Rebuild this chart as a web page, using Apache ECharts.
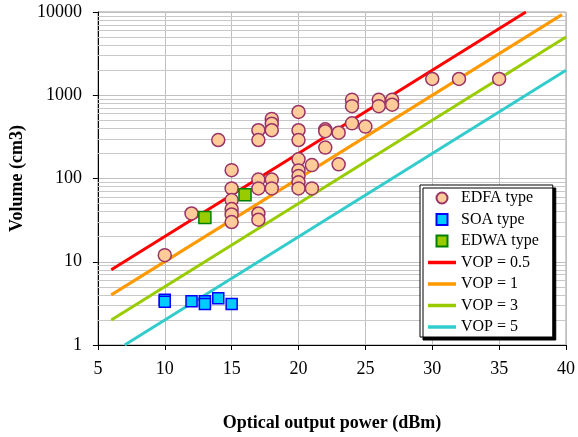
<!DOCTYPE html>
<html>
<head>
<meta charset="utf-8">
<script src="https://cdn.jsdelivr.net/npm/echarts@6/dist/echarts.min.js"></script>
<style>
  html, body { margin: 0; padding: 0; background: #fff; }
</style>
</head>
<body>
<div id="main" style="width: 578px; height: 437px"></div>
<script>
// power (dBm), volume (cm3)
var edfaData = [
  [10, 12], [12, 38], [14, 290],
  [15, 126], [15, 76], [15, 55], [15, 43], [15, 37], [15, 30],
  [17, 380], [17, 290], [17, 97], [17, 76], [17, 38], [17, 32],
  [18, 520], [18, 455], [18, 380], [18, 97], [18, 76],
  [20, 630], [20, 380], [20, 290], [20, 170], [20, 125], [20, 107], [20, 90], [20, 76],
  [21, 145], [21, 76],
  [22, 390], [22, 370], [22, 235],
  [23, 355], [23, 148],
  [24, 880], [24, 740], [24, 460],
  [25, 420],
  [26, 880], [26, 740],
  [27, 880], [27, 770],
  [30, 1570], [32, 1570], [35, 1570]
];
var soaData = [[10, 3.5], [10, 3.3], [12, 3.35], [13, 3.35], [13, 3.1], [14, 3.65], [15, 3.1]];
var edwaData = [[13, 34], [16, 64]];

// VOP lines, end points
var vop05 = [[6, 8], [37, 10000]];
var vop1 = [[6, 4], [39.7, 9300]];
var vop3 = [[6, 2], [40, 5000]];
var vop5 = [[7, 1], [40, 2000]];

var xTicks = [5, 10, 15, 20, 25, 30, 35, 40];
var yTicks = [1, 10, 100, 1000, 10000];
var minorGrid = [2, 3, 4, 5, 6, 7, 8, 9, 20, 30, 40, 50, 60, 70, 80, 90,
  200, 300, 400, 500, 600, 700, 800, 900, 2000, 3000, 4000, 5000, 6000, 7000, 8000, 9000];

var font = 'Liberation Serif';
var square = 'path://M0,0L10,0L10,10L0,10Z';
var bar = 'path://M0,0L28,0L28,3.5L0,3.5Z';
var chartDom = document.getElementById('main');
var myChart = echarts.init(chartDom);

var option = {
  animation: false,
  textStyle: { fontFamily: font, color: '#000' },
  grid: {
    left: 97, right: 12, top: 12, bottom: 91,
    show: true, borderColor: '#999', borderWidth: 1
  },
  legend: {
    orient: 'vertical',
    left: 420, top: 185,
    padding: [5, 14, 2, 8],
    itemWidth: 28, itemHeight: 11, itemGap: 5.5,
    symbolKeepAspect: true,
    backgroundColor: '#fff',
    borderColor: '#000', borderWidth: 1,
    shadowColor: '#000', shadowBlur: 0, shadowOffsetX: 3, shadowOffsetY: 3,
    textStyle: { fontFamily: font, fontSize: 16, lineHeight: 16, color: '#000' },
    data: [
      { name: 'EDFA type', icon: 'circle' },
      { name: 'SOA type', icon: square },
      { name: 'EDWA type', icon: square },
      { name: 'VOP = 0.5', icon: bar, itemStyle: { color: '#ff0000', borderWidth: 0 } },
      { name: 'VOP = 1', icon: bar, itemStyle: { color: '#ff9900', borderWidth: 0 } },
      { name: 'VOP = 3', icon: bar, itemStyle: { color: '#99cc00', borderWidth: 0 } },
      { name: 'VOP = 5', icon: bar, itemStyle: { color: '#33cccc', borderWidth: 0 } }
    ]
  },
  xAxis: {
    type: 'value', min: xTicks[0], max: xTicks[xTicks.length - 1], interval: 5,
    name: 'Optical output power (dBm)', nameLocation: 'middle', nameGap: 69,
    nameTextStyle: { fontFamily: font, fontSize: 18, fontWeight: 'bold', color: '#000' },
    axisLine: { lineStyle: { color: '#000', width: 1 } },
    axisTick: { show: true, length: 5, lineStyle: { color: '#000' } },
    axisLabel: { margin: 15, fontFamily: font, fontSize: 18, color: '#000' },
    splitLine: { show: true, lineStyle: { color: '#c0c0c0', width: 1 } }
  },
  yAxis: {
    type: 'log', logBase: 10, min: yTicks[0], max: yTicks[yTicks.length - 1],
    name: 'Volume (cm3)', nameLocation: 'middle', nameGap: 70,
    nameTextStyle: { fontFamily: font, fontSize: 18, fontWeight: 'bold', color: '#000' },
    axisLine: { show: true, lineStyle: { color: '#000', width: 1 } },
    axisTick: { show: true, length: 5, lineStyle: { color: '#000' } },
    axisLabel: {
      margin: 16, fontFamily: font, fontSize: 18, color: '#000',
      formatter: function (v) { return String(Math.round(v)); }
    },
    splitLine: { show: true, lineStyle: { color: '#c0c0c0', width: 1 } }
  },
  series: [
    {
      name: 'grid', type: 'line', data: [], z: 1, silent: true,
      markLine: {
        silent: true, symbol: 'none', animation: false, z: 1,
        label: { show: false },
        lineStyle: { color: '#c8c8c8', width: 1, type: 'solid' },
        data: minorGrid.map(function (v) { return { yAxis: v }; })
      }
    },
    { name: 'VOP = 0.5', type: 'line', data: vop05, symbol: 'none', z: 2,
      lineStyle: { color: '#ff0000', width: 3 }, itemStyle: { color: '#ff0000' } },
    { name: 'VOP = 1', type: 'line', data: vop1, symbol: 'none', z: 2,
      lineStyle: { color: '#ff9900', width: 3 }, itemStyle: { color: '#ff9900' } },
    { name: 'VOP = 3', type: 'line', data: vop3, symbol: 'none', z: 2,
      lineStyle: { color: '#99cc00', width: 3 }, itemStyle: { color: '#99cc00' } },
    { name: 'VOP = 5', type: 'line', data: vop5, symbol: 'none', z: 2,
      lineStyle: { color: '#33cccc', width: 3 }, itemStyle: { color: '#33cccc' } },
    { name: 'EDFA type', type: 'scatter', data: edfaData, symbol: 'circle', symbolSize: 13, z: 3,
      itemStyle: { color: '#ffcc99', borderColor: '#993366', borderWidth: 1.5, opacity: 1 } },
    { name: 'SOA type', type: 'scatter', data: soaData, symbol: 'rect', symbolSize: 11, z: 3,
      itemStyle: { color: '#00ccff', borderColor: '#0000ff', borderWidth: 1.5, opacity: 1 } },
    { name: 'EDWA type', type: 'scatter', data: edwaData, symbol: 'rect', symbolSize: 12, z: 3,
      itemStyle: { color: '#99cc00', borderColor: '#008000', borderWidth: 1.5, opacity: 1 } }
  ]
};

myChart.setOption(option);
window.addEventListener("resize", function () {
  myChart.resize();
});
</script>
</body>
</html>
